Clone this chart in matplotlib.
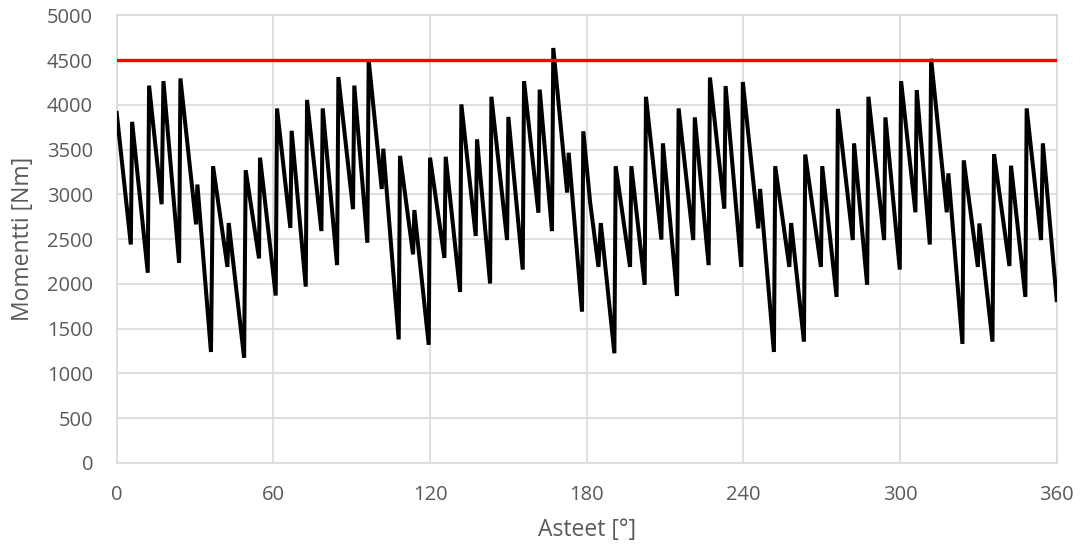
import matplotlib
matplotlib.use("Agg")
import matplotlib.pyplot as plt

# Torque over one full revolution
angle = [0, 5.4, 5.9, 11.9, 12.4, 17.2, 17.9, 23.9, 24.4, 30.4, 30.9, 36.1, 36.9,
         42.4, 42.9, 48.8, 49.4, 54.5, 54.9, 60.9, 61.4, 66.5, 67.0, 72.4, 72.9,
         78.4, 78.9, 84.4, 84.9, 90.5, 91.0, 96.0, 96.5, 101.5, 102.1, 108.0, 108.5,
         113.5, 114.0, 119.5, 120.0, 125.5, 126.0, 131.5, 132.0, 137.5, 138.0,
         143.0, 143.5, 149.5, 150.0, 155.5, 156.0, 161.5, 162.0, 166.7, 167.2,
         172.5, 173.1, 178.2, 178.7, 181.3, 184.5, 185.4, 190.6, 191.1, 196.6,
         197.1, 202.2, 202.7, 208.6, 209.2, 214.6, 215.2, 220.8, 221.4, 226.7,
         227.2, 232.7, 233.2, 239.2, 239.8, 245.7, 246.4, 251.7, 252.2, 257.6,
         258.3, 263.2, 263.7, 269.7, 270.2, 275.7, 276.2, 281.9, 282.4, 287.4,
         287.9, 293.9, 294.4, 299.9, 300.4, 305.9, 306.4, 311.4, 311.9, 317.9,
         318.5, 323.9, 324.4, 329.8, 330.4, 335.4, 336.0, 341.9, 342.5, 348.0,
         348.5, 354.0, 354.7, 359.1, 360]
torque = [3910, 2440, 3810, 2125, 4215, 2890, 4265, 2235, 4295, 2665, 3110, 1240, 3315,
          2190, 2680, 1175, 3270, 2285, 3410, 1870, 3960, 2625, 3710, 1970, 4055,
          2590, 3960, 2210, 4310, 2835, 4215, 2460, 4505, 3060, 3510, 1380, 3430,
          2330, 2825, 1320, 3410, 2290, 3420, 1910, 4005, 2535, 3615,
          2005, 4090, 2490, 3865, 2160, 4265, 2795, 4170, 2590, 4635,
          3020, 3465, 1690, 3705, 2915, 2190, 2680, 1225, 3315, 2190,
          3315, 1990, 4090, 2495, 3570, 1865, 3960, 2490, 3860, 2210,
          4305, 2840, 4210, 2190, 4255, 2620, 3060, 1240, 3315, 2190,
          2680, 1355, 3445, 2190, 3315, 1855, 3955, 2490, 3570, 1990,
          4090, 2490, 3860, 2160, 4265, 2800, 4165, 2440, 4515, 2800,
          3235, 1330, 3380, 2190, 2675, 1355, 3450, 2200, 3320, 1855,
          3960, 2490, 3570, 2115, 1820]

limit_angle = [0, 360]
limit_torque = [4500, 4500]

x_ticks = [0, 60, 120, 180, 240, 300, 360]
y_ticks = [0, 500, 1000, 1500, 2000, 2500, 3000, 3500, 4000, 4500, 5000]

plt.rcParams['font.family'] = ['Open Sans', 'DejaVu Sans']

W, H = 1087, 548
fig = plt.figure(figsize=(W / 100, H / 100), dpi=100)
ax = fig.add_axes([116.7 / W, 1 - 463 / H, 940 / W, 447.7 / H])

grid_c = '#d9d9d9'
text_c = '#595959'

ax.plot(angle, torque, color='black', linewidth=2.9, solid_joinstyle='miter', zorder=3)
ax.plot(limit_angle, limit_torque, color='#ff0000', linewidth=2.4, zorder=4)

ax.set_xlim(0, 360)
ax.set_ylim(0, 5000)
ax.set_xticks(x_ticks)
ax.set_yticks(y_ticks)
ax.grid(True, color=grid_c, linewidth=1.2, zorder=0)
ax.set_axisbelow(True)
for s in ax.spines.values():
    s.set_color(grid_c)
    s.set_linewidth(1.2)
ax.tick_params(axis='y', length=0, pad=17, labelsize=14.5, labelcolor=text_c)
ax.tick_params(axis='x', length=0, pad=16, labelsize=14.5, labelcolor=text_c)

fig.text(586.7 / W, 1 - 530 / H, 'Asteet [°]', ha='center', va='center',
         fontsize=16.5, color=text_c)
fig.text(23 / W, 1 - 239 / H, 'Momentti [Nm]', ha='center', va='center',
         rotation=90, fontsize=16.5, color=text_c)

fig.savefig('out.png', dpi=100)
